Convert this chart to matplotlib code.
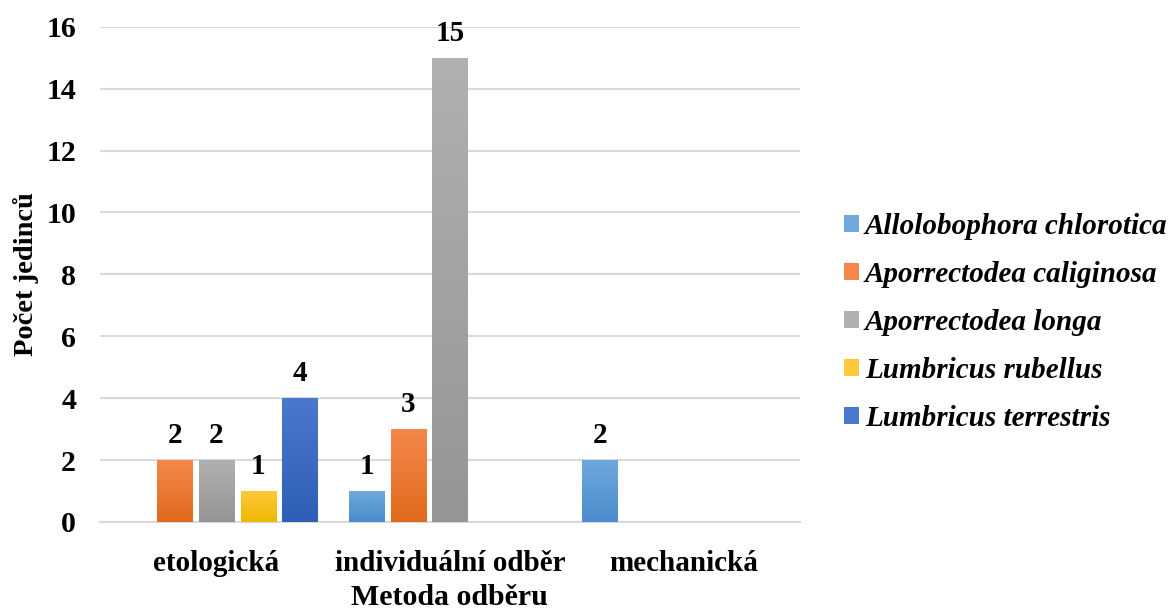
import matplotlib
matplotlib.use("Agg")
import matplotlib.pyplot as plt
import numpy as np
from matplotlib.colors import to_rgb

categories = ["etologická", "individuální odběr", "mechanická"]
species = ["Allolobophora chlorotica", "Aporrectodea caliginosa", "Aporrectodea longa",
           "Lumbricus rubellus", "Lumbricus terrestris"]
chlorotica = [0, 1, 2]
caliginosa = [2, 3, 0]
longa = [2, 15, 0]
rubellus = [1, 0, 0]
terrestris = [4, 0, 0]
series = [chlorotica, caliginosa, longa, rubellus, terrestris]

# (top colour, bottom colour) for the Excel-like gradient
colors = [("#6fa8dc", "#4a8ccc"), ("#f4884a", "#e06a1c"), ("#b0b0b0", "#959595"),
          ("#ffc83a", "#f0b800"), ("#4a78cc", "#2f5eb6")]

plt.rcParams['font.family'] = ['Liberation Serif', 'DejaVu Serif']
plt.rcParams['font.weight'] = 'bold'

fig = plt.figure(figsize=(11.73, 6.09), dpi=100)
ax = fig.add_axes([0.085, 0.143, 0.597, 0.813])

x = np.arange(len(categories))
step = 0.1786
width = 0.15


def gradient_bar(ax, bar, top, bottom):
    x0, y0 = bar.get_x(), bar.get_y()
    w, h = bar.get_width(), bar.get_height()
    if h <= 0:
        return
    t = np.array(to_rgb(top))
    b = np.array(to_rgb(bottom))
    grad = np.linspace(0, 1, 64)[:, None, None]
    img = t * (1 - grad) + b * grad
    im = ax.imshow(img, extent=(x0, x0 + w, y0, y0 + h), origin='upper',
                   aspect='auto', zorder=3)
    im.set_clip_path(bar)


handles = []
for i, (vals, name) in enumerate(zip(series, species)):
    pos = x + (i - 2) * step
    bars = ax.bar(pos, vals, width, facecolor=colors[i][0], edgecolor='none',
                  zorder=2, label=name)
    for bar, v in zip(bars, vals):
        gradient_bar(ax, bar, *colors[i])
        if v > 0:
            ax.annotate(str(v), (bar.get_x() + bar.get_width() / 2, v),
                        xytext=(0, 8), textcoords='offset points',
                        ha='center', va='bottom', fontsize=21, fontweight='bold')
    handles.append(bars)

ax.set_xlim(-0.5, 2.5)
ax.set_ylim(0, 16)
ax.set_yticks(range(0, 17, 2))
ax.set_xticks(x)
ax.set_xticklabels(categories, fontsize=21, fontweight='bold')
ax.tick_params(axis='y', labelsize=21.5, length=0, pad=17)
ax.tick_params(axis='x', length=0, pad=20)
ax.yaxis.grid(True, color='#d9d9d9', linewidth=1.5, zorder=0)
ax.set_axisbelow(True)
for s in ['top', 'right', 'left']:
    ax.spines[s].set_visible(False)
ax.spines['bottom'].set_color('#d9d9d9')
ax.spines['bottom'].set_linewidth(1.5)

ax.set_xlabel("Metoda odběru", fontsize=21.5, fontweight='bold', labelpad=5)
ax.set_ylabel("Počet jedinců", fontsize=20.5, fontweight='bold', labelpad=5)

leg = fig.legend(handles=handles, labels=species, loc='center left',
                 bbox_to_anchor=(0.697, 0.471), frameon=False,
                 prop={'family': 'Liberation Serif', 'weight': 'bold',
                       'style': 'italic', 'size': 21},
                 handlelength=0.52, handleheight=0.52, handletextpad=0.2,
                 labelspacing=0.72)

fig.savefig("out.png", dpi=100)
